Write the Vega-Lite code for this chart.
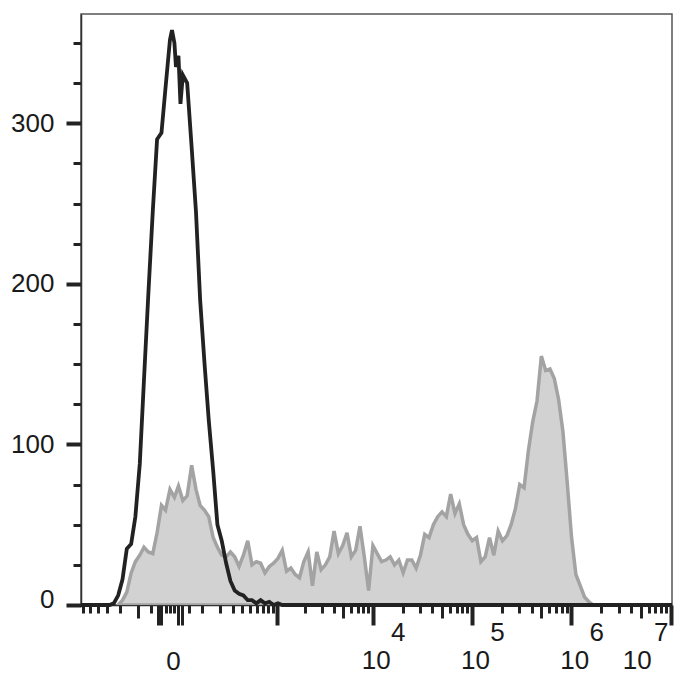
{
  "$schema": "https://vega.github.io/schema/vega-lite/v6.json",
  "width": 591,
  "height": 591,
  "autosize": {"type": "none"},
  "padding": {"left": 81, "top": 14, "right": 28, "bottom": 95},
  "background": "white",
  "config": {"view": {"stroke": "#555", "strokeWidth": 1.5}, "font": "Liberation Sans"},
  "datasets": {
    "stained": [
      {"x": -213, "count": 0}, {"x": -184, "count": 3}, {"x": -158, "count": 8}, {"x": -134, "count": 20},
      {"x": -113, "count": 27}, {"x": -93, "count": 31}, {"x": -76, "count": 36}, {"x": -60, "count": 33},
      {"x": -45, "count": 32}, {"x": -32, "count": 45}, {"x": -20, "count": 62}, {"x": -10, "count": 59},
      {"x": 0, "count": 72}, {"x": 10, "count": 67}, {"x": 20, "count": 74}, {"x": 32, "count": 65},
      {"x": 45, "count": 68}, {"x": 60, "count": 87}, {"x": 76, "count": 72}, {"x": 93, "count": 62},
      {"x": 113, "count": 59}, {"x": 134, "count": 55}, {"x": 158, "count": 42}, {"x": 184, "count": 36},
      {"x": 213, "count": 31}, {"x": 246, "count": 30}, {"x": 281, "count": 33}, {"x": 320, "count": 30},
      {"x": 364, "count": 24}, {"x": 412, "count": 31}, {"x": 465, "count": 40}, {"x": 523, "count": 25},
      {"x": 588, "count": 27}, {"x": 659, "count": 26}, {"x": 738, "count": 20}, {"x": 826, "count": 24},
      {"x": 922, "count": 26}, {"x": 1029, "count": 29}, {"x": 1147, "count": 34}, {"x": 1277, "count": 21},
      {"x": 1421, "count": 23}, {"x": 1580, "count": 19}, {"x": 1756, "count": 17}, {"x": 1950, "count": 27},
      {"x": 2165, "count": 33}, {"x": 2402, "count": 12}, {"x": 2665, "count": 33}, {"x": 2955, "count": 22},
      {"x": 3275, "count": 25}, {"x": 3629, "count": 30}, {"x": 4021, "count": 46}, {"x": 4453, "count": 32},
      {"x": 4931, "count": 37}, {"x": 5459, "count": 45}, {"x": 6043, "count": 30}, {"x": 6688, "count": 34},
      {"x": 7402, "count": 49}, {"x": 8190, "count": 30}, {"x": 9061, "count": 9}, {"x": 10023, "count": 37},
      {"x": 11087, "count": 32}, {"x": 12263, "count": 27}, {"x": 13562, "count": 28}, {"x": 14998, "count": 30},
      {"x": 16585, "count": 25}, {"x": 18339, "count": 28}, {"x": 20277, "count": 20}, {"x": 22420, "count": 28},
      {"x": 24787, "count": 28}, {"x": 27404, "count": 23}, {"x": 30296, "count": 31}, {"x": 33491, "count": 44},
      {"x": 37024, "count": 42}, {"x": 40927, "count": 50}, {"x": 45241, "count": 55}, {"x": 50009, "count": 58},
      {"x": 55278, "count": 55}, {"x": 61101, "count": 69}, {"x": 67537, "count": 57}, {"x": 74649, "count": 63},
      {"x": 82510, "count": 50}, {"x": 91197, "count": 44}, {"x": 100798, "count": 40}, {"x": 111409, "count": 42},
      {"x": 123136, "count": 27}, {"x": 136096, "count": 30}, {"x": 150418, "count": 42}, {"x": 166248, "count": 31},
      {"x": 183742, "count": 46}, {"x": 203076, "count": 40}, {"x": 224443, "count": 43}, {"x": 248058, "count": 50},
      {"x": 274156, "count": 60}, {"x": 302999, "count": 75}, {"x": 334875, "count": 73}, {"x": 370104, "count": 96},
      {"x": 409038, "count": 114}, {"x": 452067, "count": 127}, {"x": 499621, "count": 155}, {"x": 552176, "count": 146},
      {"x": 610258, "count": 147}, {"x": 674449, "count": 141}, {"x": 745391, "count": 128}, {"x": 823795, "count": 108},
      {"x": 910444, "count": 76}, {"x": 1006204, "count": 42}, {"x": 1111941, "count": 19}, {"x": 1228900, "count": 12},
      {"x": 1358170, "count": 5}, {"x": 1501027, "count": 2}, {"x": 1658908, "count": 0}
    ],
    "control": [
      {"x": -630, "count": 0}, {"x": -281, "count": 0}, {"x": -246, "count": 1}, {"x": -213, "count": 6},
      {"x": -184, "count": 16}, {"x": -158, "count": 35}, {"x": -134, "count": 38}, {"x": -113, "count": 55},
      {"x": -93, "count": 88}, {"x": -76, "count": 140}, {"x": -60, "count": 193}, {"x": -45, "count": 245},
      {"x": -32, "count": 290}, {"x": -20, "count": 294}, {"x": -10, "count": 322}, {"x": 0, "count": 352},
      {"x": 4.4, "count": 358}, {"x": 10, "count": 350}, {"x": 13.7, "count": 335}, {"x": 20, "count": 342},
      {"x": 25.3, "count": 312}, {"x": 32, "count": 330}, {"x": 45, "count": 325}, {"x": 60, "count": 285},
      {"x": 76, "count": 245}, {"x": 93, "count": 190}, {"x": 113, "count": 150}, {"x": 134, "count": 115},
      {"x": 158, "count": 84}, {"x": 184, "count": 50}, {"x": 213, "count": 40}, {"x": 246, "count": 26},
      {"x": 281, "count": 15}, {"x": 320, "count": 9}, {"x": 364, "count": 7}, {"x": 412, "count": 6},
      {"x": 465, "count": 3}, {"x": 523, "count": 3}, {"x": 588, "count": 1}, {"x": 659, "count": 3},
      {"x": 738, "count": 1}, {"x": 826, "count": 2}, {"x": 922, "count": 0}, {"x": 1029, "count": 1},
      {"x": 1147, "count": 0}, {"x": 10300000, "count": 0}
    ]
  },
  "layer": [
    {
      "data": {"name": "stained"},
      "mark": {"type": "area", "color": "#d2d2d2", "stroke": "#a3a3a3", "strokeWidth": 3.5, "clip": true},
      "encoding": {
        "x": {
          "field": "x", "type": "quantitative",
          "scale": {"type": "symlog", "constant": 92, "domain": [-630, 10300000], "nice": false, "zero": false},
          "axis": {
            "orient": "bottom",
            "title": null, "grid": false,
            "values": [-600, -500, -400, -300, -200, -100, -50, -30, -20, -10, 0, 10, 20, 30, 50, 100, 200, 300, 400, 500, 600, 700, 800, 900, 1000, 2000, 3000, 4000, 5000, 6000, 7000, 8000, 9000, 10000, 20000, 30000, 40000, 50000, 60000, 70000, 80000, 90000, 100000, 200000, 300000, 400000, 500000, 600000, 700000, 800000, 900000, 1000000, 2000000, 3000000, 4000000, 5000000, 6000000, 7000000, 8000000, 9000000, 10000000],
            "domain": true, "domainColor": "#333", "domainWidth": 1.5,
            "tickColor": "#222",
            "tickSize": {"condition": [{"test": "indexof([1000,10000,100000,1000000,10000000,-20,-30,20,30], datum.value) >= 0", "value": 20}, {"test": "indexof([5000,50000,500000,5000000,-100], datum.value) >= 0", "value": 13}], "value": 8},
            "tickWidth": {"condition": {"test": "indexof([1000,10000,100000,1000000,10000000], datum.value) >= 0", "value": 4}, "value": 3},
            "labelExpr": "datum.value === 0 ? '0' : (indexof([10000,100000,1000000,10000000], datum.value) >= 0 ? '10' : '')",
            "labelFontSize": 26, "labelColor": "#1a1a1a",
            "labelPadding": {"condition": {"test": "datum.value === 0", "value": 35}, "value": 22},
            "labelOffset": {"condition": {"test": "datum.value === 10000000", "value": -34}, "value": 3},
            "labelOverlap": false, "labelBound": false, "labelFlush": false
          }
        },
        "y": {
          "field": "count", "type": "quantitative",
          "scale": {"domain": [0, 368], "nice": false},
          "axis": {
            "title": null, "grid": false,
            "values": [0, 25, 50, 75, 100, 125, 150, 175, 200, 225, 250, 275, 300, 325, 350],
            "domainColor": "#333", "domainWidth": 1.5, "tickColor": "#222",
            "tickSize": {"condition": {"test": "datum.value % 100 === 0", "value": 15}, "value": 8},
            "tickWidth": {"condition": {"test": "datum.value % 100 === 0", "value": 4}, "value": 3},
            "labelExpr": "datum.value % 100 === 0 ? datum.label : ''",
            "labelFontSize": 26, "labelColor": "#1a1a1a", "labelPadding": 12,
            "labelOffset": {"condition": {"test": "datum.value === 0", "value": -6}, "value": 0},
            "labelOverlap": false, "labelBound": false, "labelFlush": false
          }
        }
      }
    },
    {
      "data": {"name": "control"},
      "mark": {"type": "line", "color": "#222", "strokeWidth": 3.8, "clip": false},
      "encoding": {
        "x": {
          "field": "x", "type": "quantitative",
          "scale": {"type": "symlog", "constant": 92, "domain": [-630, 10300000], "nice": false, "zero": false},
          "axis": {
            "orient": "bottom", "title": null, "grid": false,
            "values": [10000, 100000, 1000000, 10000000],
            "domain": false, "ticks": false,
            "labelExpr": "'' + round(log(datum.value) / LN10)",
            "labelFontSize": 26, "labelColor": "#1a1a1a", "labelPadding": 14,
            "labelOffset": {"condition": {"test": "datum.value === 10000000", "value": -10}, "value": 25},
            "labelOverlap": false, "labelBound": false, "labelFlush": false
          }
        },
        "y": {"field": "count", "type": "quantitative", "scale": {"domain": [0, 368], "nice": false}, "axis": null}
      }
    }
  ],
  "resolve": {"axis": {"x": "independent", "y": "independent"}}
}
